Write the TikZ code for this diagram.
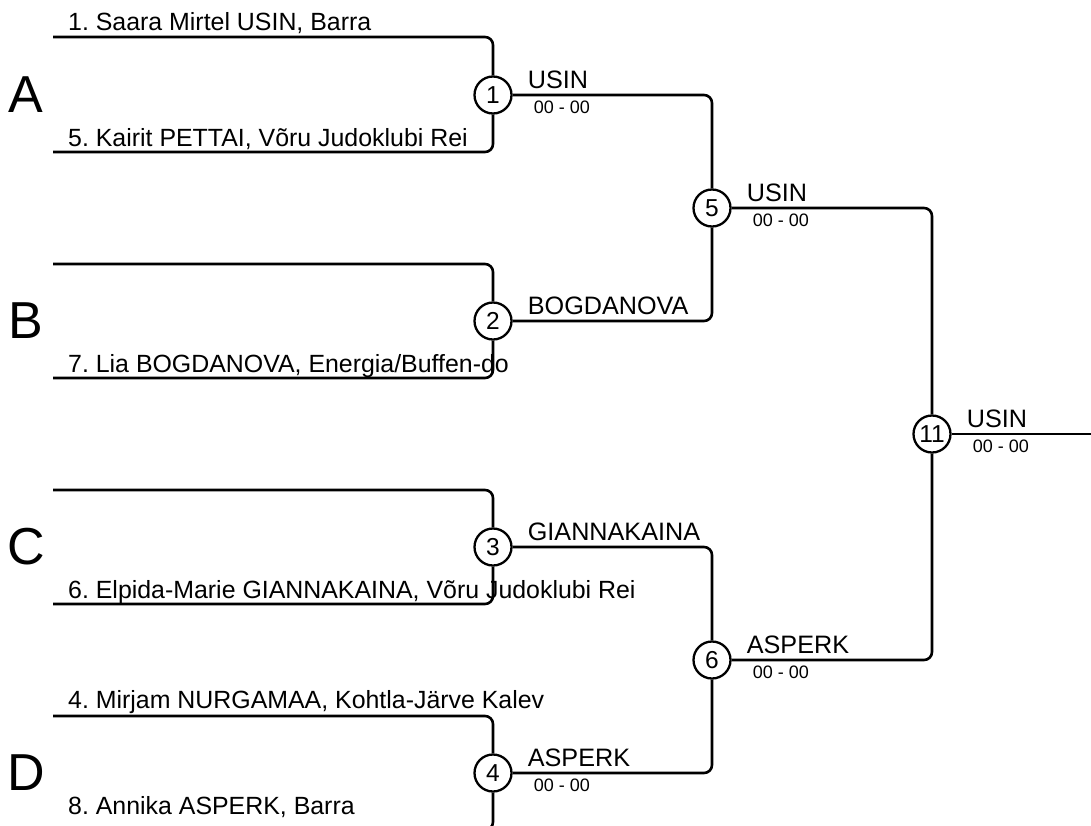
\documentclass[tikz,border=0pt]{standalone}
\usepackage{fontspec}
\setmainfont{Liberation Sans}
\frenchspacing
\begin{document}
\begin{tikzpicture}[x=1pt,y=-1pt,
  match/.style={circle,draw,line width=2.3pt,minimum size=37pt,inner sep=0pt,fill=white,font=\fontsize{24.5}{24}\selectfont},
  conn/.style={line width=2.6pt,rounded corners=8pt},
  entrant/.style={anchor=base west,inner sep=0pt,font=\fontsize{24.9}{26}\selectfont},
  pool/.style={inner sep=0pt,font=\fontsize{52}{52}\selectfont},
  winner/.style={anchor=base west,inner sep=0pt,font=\fontsize{25.2}{26}\selectfont},
  score/.style={anchor=base west,inner sep=0pt,font=\fontsize{18}{18}\selectfont}]
\useasboundingbox (0,0) rectangle (1091,825);
% match circles
\node[match] (m1) at (493,95) {1};
\node[match] (m2) at (493,321) {2};
\node[match] (m3) at (493,547) {3};
\node[match] (m4) at (493,773) {4};
\node[match] (m5) at (712,208) {5};
\node[match] (m6) at (712,660) {6};
\node[match] (m11) at (932,434) {11};
% line start points
\coordinate (a1) at (53,37);
\coordinate (a2) at (53,152);
\coordinate (b1) at (53,264);
\coordinate (b2) at (53,378);
\coordinate (c1) at (53,490);
\coordinate (c2) at (53,604);
\coordinate (d1) at (53,716);
\coordinate (d2) at (53,830);
\coordinate (fin) at (1100,434);
% pool letters
\node[pool] (pA) at (26,95) {A};
\node[pool] (pB) at (26,321) {B};
\node[pool] (pC) at (26,547) {C};
\node[pool] (pD) at (26,773) {D};
% entrant names
\node[entrant] (e1) at (68,30.5) {1. Saara Mirtel USIN, Barra};
\node[entrant] (e5) at (68,146) {5. Kairit PETTAI, Võru Judoklubi Rei};
\node[entrant] (e7) at (68,372) {7. Lia BOGDANOVA, Energia/Buffen-do};
\node[entrant] (e6) at (68,598) {6. Elpida-Marie GIANNAKAINA, Võru Judoklubi Rei};
\node[entrant] (e4) at (68,708) {4. Mirjam NURGAMAA, Kohtla-Järve Kalev};
\node[entrant] (e8) at (68,814) {8. Annika ASPERK, Barra};
% connectors
\draw[conn] (a1) -| (m1.north);
\draw[conn] (a2) -| (m1.south);
\draw[conn] (b1) -| (m2.north);
\draw[conn] (b2) -| (m2.south);
\draw[conn] (c1) -| (m3.north);
\draw[conn] (c2) -| (m3.south);
\draw[conn] (d1) -| (m4.north);
\draw[conn] (d2) -| (m4.south);
\draw[conn] (m1.east) -| (m5.north);
\draw[conn] (m2.east) -| (m5.south);
\draw[conn] (m3.east) -| (m6.north);
\draw[conn] (m4.east) -| (m6.south);
\draw[conn] (m5.east) -| (m11.north);
\draw[conn] (m6.east) -| (m11.south);
\draw[conn] (m11.east) -- (fin);
% winners and scores
\node[winner] (w1) at ([xshift=15pt,yshift=7pt]m1.east) {USIN};
\node[score] (s1) at ([xshift=21pt,yshift=-18pt]m1.east) {00 - 00};
\node[winner] (w2) at ([xshift=15pt,yshift=7pt]m2.east) {BOGDANOVA};
\node[winner] (w3) at ([xshift=15pt,yshift=7pt]m3.east) {GIANNAKAINA};
\node[winner] (w4) at ([xshift=15pt,yshift=7pt]m4.east) {ASPERK};
\node[score] (s4) at ([xshift=21pt,yshift=-18pt]m4.east) {00 - 00};
\node[winner] (w5) at ([xshift=15pt,yshift=7pt]m5.east) {USIN};
\node[score] (s5) at ([xshift=21pt,yshift=-18pt]m5.east) {00 - 00};
\node[winner] (w6) at ([xshift=15pt,yshift=7pt]m6.east) {ASPERK};
\node[score] (s6) at ([xshift=21pt,yshift=-18pt]m6.east) {00 - 00};
\node[winner] (w11) at ([xshift=15pt,yshift=7pt]m11.east) {USIN};
\node[score] (s11) at ([xshift=21pt,yshift=-18pt]m11.east) {00 - 00};
\end{tikzpicture}
\end{document}
